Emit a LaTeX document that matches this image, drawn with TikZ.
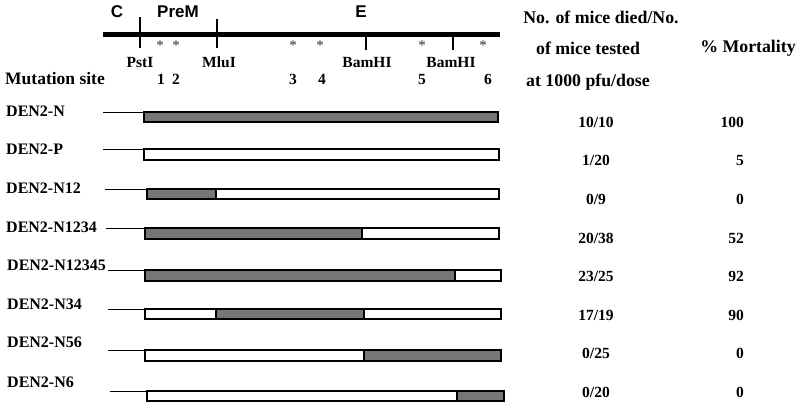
\documentclass[tikz,border=0pt]{standalone}
\usepackage{fontspec}
\setmainfont{Liberation Serif}
\newfontfamily\arialf{Liberation Sans}
\definecolor{bargray}{RGB}{118,118,118}
\definecolor{stargray}{RGB}{50,50,50}
\tikzset{
  lbl/.style={font=\bfseries\fontsize{16}{18}\selectfont, inner sep=0pt, anchor=west},
  hdr/.style={font=\bfseries\fontsize{17.8}{20}\selectfont, inner sep=0pt},
  val/.style={font=\bfseries\fontsize{15.5}{18}\selectfont, inner sep=0pt},
  site/.style={font=\bfseries\fontsize{15.5}{18}\selectfont, inner sep=0pt},
  region/.style={font=\arialf\bfseries\fontsize{17}{19}\selectfont, inner sep=0pt},
  star/.style={font=\fontsize{15}{16}\selectfont, text=stargray, inner sep=0pt},
  lead/.style={line width=1pt},
  barbox/.style={draw, line width=1.3pt},
  graybox/.style={fill=bargray, draw, line width=1.3pt},
  tick/.style={line width=1.2pt}
}
\begin{document}
\begin{tikzpicture}[x=1pt,y=-1pt]
\useasboundingbox (0,0) rectangle (800,408);
\fill[white] (0,0) rectangle (800,408);

% genome map
\draw[line width=5.5pt] (103,34.5) -- (500,34.5);
\draw[tick] (140,17) -- (140,48);
\draw[tick] (217,19) -- (217,48);
\draw[tick] (366,35) -- (366,50);
\draw[tick] (453,35) -- (453,50);
\node[region] (C) at (117,12) {C};
\node[region] (PreM) at (178,12) {PreM};
\node[region] (E) at (361,12) {E};
\foreach \x/\n in {160/s1,176/s2,293/s3,320/s4,422/s5,483/s6}
  \node[star] (\n) at (\x,46) {*};
\node[site] (pst) at (140,62) {PstI};
\node[site] (mlu) at (219,62) {MluI};
\node[site] (bam1) at (367,62) {BamHI};
\node[site] (bam2) at (451,62) {BamHI};
\foreach \x/\t in {161/1,176/2,293/3,322/4,422/5,488/6}
  \node[site] (n\t) at (\x,79) {\t};
\node[lbl, font=\bfseries\fontsize{17.5}{20}\selectfont] (mut) at (5,79) {Mutation site};

% headers
\node[hdr] (h1) at (601,17) {No. of mice died/No.};
\node[hdr] (h2) at (588,48) {of mice tested};
\node[hdr] (h3) at (748,48) {\% Mortality};
\node[hdr] (h4) at (588,82) {at 1000 pfu/dose};

% constructs
% DEN2-N
\node[lbl] (r1) at (6,111.5) {DEN2-N};
\draw[lead] (103,112) -- (144,112);
\draw[graybox] (144,112) rectangle (498,122);
% DEN2-P
\node[lbl] (r2) at (6,149) {DEN2-P};
\draw[lead] (103,149) -- (144,149);
\draw[barbox] (144,149) rectangle (499,160);
% DEN2-N12
\node[lbl] (r3) at (6,188.5) {DEN2-N12};
\draw[lead] (105,189) -- (147,189);
\draw[graybox] (147,189) rectangle (216,199);
\draw[barbox] (147,189) rectangle (499,199);
% DEN2-N1234
\node[lbl] (r4) at (6,227.5) {DEN2-N1234};
\draw[lead] (106,228) -- (145,228);
\draw[graybox] (145,228) rectangle (362,239);
\draw[barbox] (145,228) rectangle (499,239);
% DEN2-N12345
\node[lbl] (r5) at (7,265.5) {DEN2-N12345};
\draw[lead] (108,270) -- (145,270);
\draw[graybox] (145,270) rectangle (455,281);
\draw[barbox] (145,270) rectangle (501,281);
% DEN2-N34
\node[lbl] (r6) at (7,304.5) {DEN2-N34};
\draw[lead] (108,309) -- (145,309);
\draw[graybox] (216,309) rectangle (364,319);
\draw[barbox] (145,309) rectangle (501,319);
% DEN2-N56
\node[lbl] (r7) at (7,342.5) {DEN2-N56};
\draw[lead] (108,350) -- (145,350);
\draw[graybox] (364,350) rectangle (501,361);
\draw[barbox] (145,350) rectangle (501,361);
% DEN2-N6
\node[lbl] (r8) at (7,382.5) {DEN2-N6};
\draw[lead] (110,391) -- (147,391);
\draw[barbox] (147,391) rectangle (500,401);
\draw[graybox] (457,391) rectangle (504,401);

% values
\foreach \y/\a/\b/\n in {122/10\slash 10/100/v1,160/1\slash 20/5/v2,199/0\slash 9/0/v3,238/20\slash 38/52/v4,276/23\slash 25/92/v5,315/17\slash 19/90/v6,353/0\slash 25/0/v7,392/0\slash 20/0/v8}{
  \node[val] (\n a) at (596,\y) {\a};
  \node[val, anchor=east] (\n b) at (744,\y) {\b};
}
\end{tikzpicture}
\end{document}
